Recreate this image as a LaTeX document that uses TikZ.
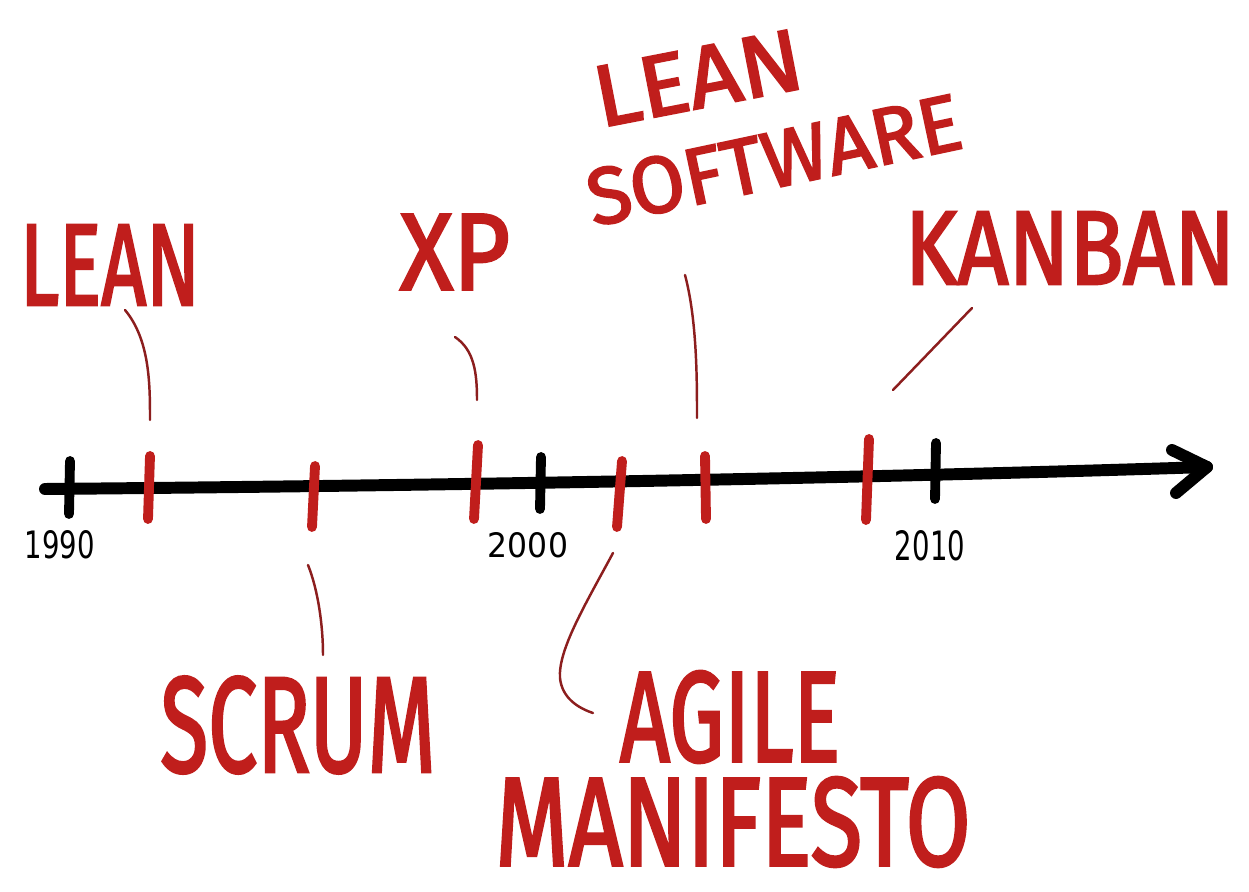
\documentclass[tikz,border=0pt]{standalone}
\usepackage{fontspec}
\newfontfamily\hand{Fira Sans}[FakeBold=2.5]
\newfontfamily\yearfont{DejaVu Sans}
\definecolor{markred}{RGB}{192,30,28}
\definecolor{linkred}{RGB}{140,30,30}
\begin{document}
\begin{tikzpicture}[x=0.01cm,y=-0.01cm,
  axis/.style={line width=3.4pt,black,line cap=round,line join=round},
  blacktick/.style={line width=2.8pt,black,line cap=round},
  redtick/.style={line width=2.8pt,markred,line cap=round},
  link/.style={line width=0.7pt,linkred,line cap=round},
  redlabel/.style={inner sep=0pt,text=markred,font=\hand},
  yearlabel/.style={inner sep=0pt,text=black,font=\yearfont}]
\useasboundingbox (0,0) rectangle (1249,892);
\fill[white] (0,0) rectangle (1249,892);
% axis
\coordinate (axstart) at (45,489);
\coordinate (axend) at (1207,467);
\draw[axis] (axstart) .. controls (500,485) and (900,477) .. (axend);
\coordinate (arrA) at (1172,450);
\coordinate (arrB) at (1176,493);
\draw[axis] (arrA) -- (axend) -- (arrB);
% black ticks
\coordinate (t90a) at (70,461); \coordinate (t90b) at (69,514);
\coordinate (t00a) at (541,457); \coordinate (t00b) at (540,509);
\coordinate (t10a) at (936,443); \coordinate (t10b) at (935,499);
\draw[blacktick] (t90a) -- (t90b);
\draw[blacktick] (t00a) -- (t00b);
\draw[blacktick] (t10a) -- (t10b);
% red ticks
\coordinate (rleanA) at (150,456); \coordinate (rleanB) at (148,519);
\coordinate (rscrA) at (315,466); \coordinate (rscrB) at (312,527);
\coordinate (rxpA) at (478,445); \coordinate (rxpB) at (474,519);
\coordinate (ragA) at (622,461); \coordinate (ragB) at (617,527);
\coordinate (rlsA) at (705,456); \coordinate (rlsB) at (706,519);
\coordinate (rkbA) at (869,439); \coordinate (rkbB) at (866,520);
\draw[redtick] (rleanA) -- (rleanB);
\draw[redtick] (rscrA) -- (rscrB);
\draw[redtick] (rxpA) -- (rxpB);
\draw[redtick] (ragA) -- (ragB);
\draw[redtick] (rlsA) -- (rlsB);
\draw[redtick] (rkbA) -- (rkbB);
% year labels
\node[yearlabel] (y1990) at (60,545) {\resizebox{0.7cm}{0.28cm}{1990}};
\node[yearlabel] (y2000) at (528,545) {\resizebox{0.8cm}{0.25cm}{2000}};
\node[yearlabel] (y2010) at (930,546) {\resizebox{0.7cm}{0.3cm}{2010}};
% red labels
\node[redlabel] (lean) at (110,265) {\resizebox{1.8cm}{0.8cm}{LEAN}};
\node[redlabel] (xp) at (455,252) {\resizebox{1.1cm}{0.75cm}{XP}};
\node[redlabel,rotate=11] (leansw1) at (698,78) {\resizebox{2.1cm}{0.6cm}{LEAN}};
\node[redlabel,rotate=12] (leansw2) at (774,160) {\resizebox{3.8cm}{0.56cm}{SOFTWARE}};
\node[redlabel] (kanban) at (1070,248) {\resizebox{3.3cm}{0.72cm}{KANBAN}};
\node[redlabel] (scrum) at (298,725) {\resizebox{2.75cm}{0.95cm}{SCRUM}};
\node[redlabel] (agile) at (730,717) {\resizebox{2.2cm}{0.9cm}{AGILE}};
\node[redlabel] (manifesto) at (733,822) {\resizebox{4.75cm}{0.88cm}{MANIFESTO}};
% connectors
\coordinate (cleanA) at (125,310); \coordinate (cleanB) at (150,420);
\draw[link] (cleanA) .. controls (150,340) and (150,385) .. (cleanB);
\coordinate (cxpA) at (455,337); \coordinate (cxpB) at (477,400);
\draw[link] (cxpA) .. controls (474,350) and (477,372) .. (cxpB);
\coordinate (clsA) at (685,275); \coordinate (clsB) at (697,418);
\draw[link] (clsA) .. controls (697,320) and (697,380) .. (clsB);
\coordinate (ckbA) at (972,308); \coordinate (ckbB) at (893,390);
\draw[link] (ckbA) -- (ckbB);
\coordinate (cscrA) at (308,565); \coordinate (cscrB) at (323,655);
\draw[link] (cscrA) .. controls (318,590) and (323,625) .. (cscrB);
\coordinate (cagA) at (613,553); \coordinate (cagM) at (560,678); \coordinate (cagB) at (593,713);
\draw[link] (cagA) .. controls (585,605) and (558,650) .. (cagM) .. controls (562,698) and (578,708) .. (cagB);
\end{tikzpicture}
\end{document}
